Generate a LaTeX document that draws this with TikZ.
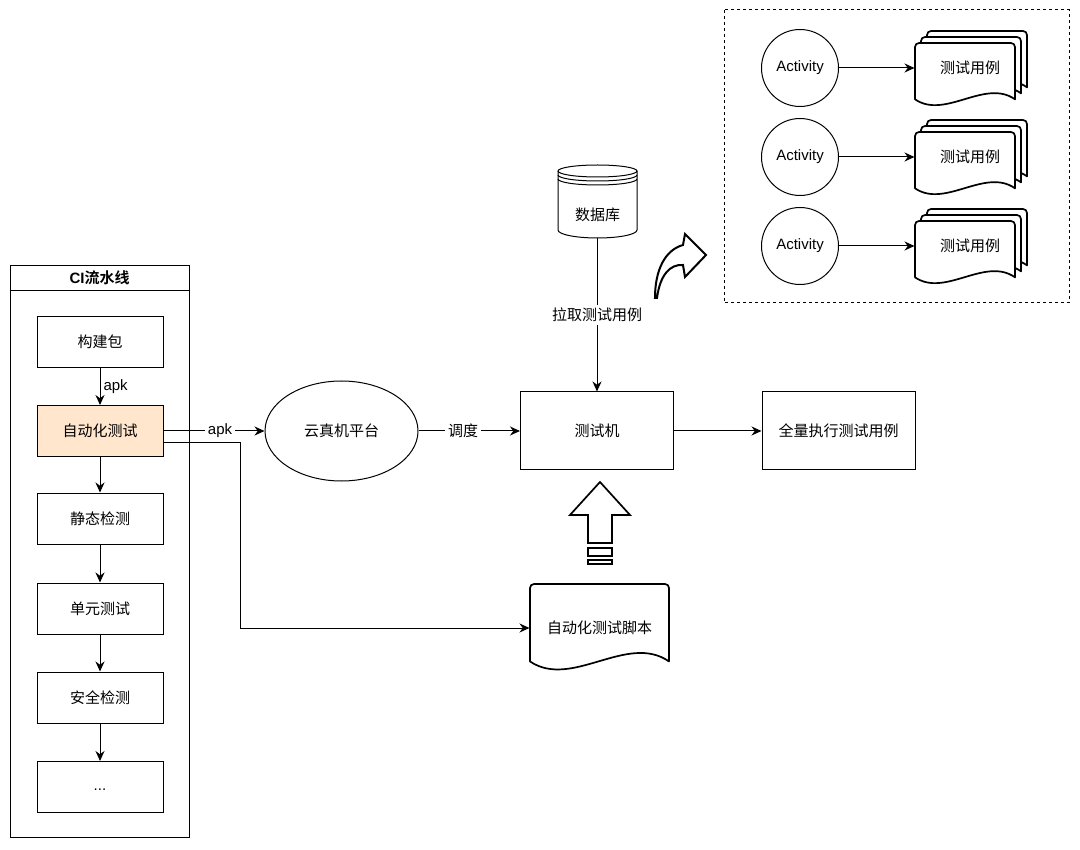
\documentclass[tikz,border=0pt]{standalone}
\usepackage{fontspec}
\setmainfont{Liberation Sans}
\newfontfamily\cn{Noto Sans CJK SC}[BoldFont={Noto Sans CJK SC Bold}]
\usetikzlibrary{arrows.meta,shapes.geometric}
\newcommand\mydoc[4]{%
  \draw[docline] (#1,{#2+0.88*#4}) -- (#1,{#2+4}) arc[start angle=180,end angle=270,radius=4]
    -- ({#1+#3-4},#2) arc[start angle=270,end angle=360,radius=4]
    -- ({#1+#3},{#2+0.88*#4}) .. controls ({#1+0.7*#3},{#2+0.55*#4}) and ({#1+0.3*#3},{#2+1.2*#4}) .. cycle;}
\newcommand\mymultidoc[4]{%
  \mydoc{#1+12}{#2-12}{#3}{#4}%
  \mydoc{#1+6}{#2-6}{#3}{#4}%
  \mydoc{#1}{#2}{#3}{#4}}
\begin{document}
\begin{tikzpicture}[x=1pt,y=-1pt,line width=1pt,
  font=\fontsize{15}{18}\selectfont,
  box/.style={draw,fill=white,minimum width=126pt,minimum height=51pt,inner sep=0pt,font=\cn\fontsize{15}{18}\selectfont},
  bigbox/.style={draw,fill=white,minimum width=153pt,minimum height=78pt,inner sep=0pt,font=\cn\fontsize{15}{18}\selectfont},
  txt/.style={inner sep=0pt,font=\cn\fontsize{15}{18}\selectfont},
  arr/.style={-{Stealth[length=10pt,width=9pt]}},
  lbl/.style={fill=white,inner sep=3pt},
  docline/.style={draw,fill=white,line width=1.7pt,line join=round},
  act/.style={draw,circle,minimum size=77pt,inner sep=0pt},
]
\useasboundingbox (0,0) rectangle (1080,850);

% CI pipeline container
\node[draw,minimum width=179pt,minimum height=572pt,anchor=north west,inner sep=0pt] (ci) at (10,265) {};
\draw (10,291) -- (189,291);
\node[font=\bfseries\fontsize{15}{18}\selectfont] (citl) at (99.5,278) {CI{\cn\bfseries 流水线}};

\node[box] (b1) at (100,342) {构建包};
\node[box,fill={rgb,255:red,255;green,230;blue,204}] (b2) at (100,431) {自动化测试};
\node[box] (b3) at (100,518.5) {静态检测};
\node[box] (b4) at (100,608.5) {单元测试};
\node[box] (b5) at (100,697.5) {安全检测};
\node[box,font=\fontsize{15}{18}\selectfont] (b6) at (100,787) {\vphantom{Ay}...};

\draw[arr] (b1) -- (b2) node[midway,right,inner sep=3pt] {apk};
\draw[arr] (b2) -- (b3);
\draw[arr] (b3) -- (b4);
\draw[arr] (b4) -- (b5);
\draw[arr] (b5) -- (b6);

% cloud platform
\node[draw,ellipse,minimum width=153pt,minimum height=100pt,inner sep=0pt,font=\cn\fontsize{15}{18}\selectfont] (cloud) at (341.5,431) {云真机平台};
\draw[arr] (b2.east) -- (cloud.west) node[lbl,pos=0.56] {apk};

% test machine
\node[bigbox] (tm) at (597,431) {测试机};
\node[bigbox] (full) at (838.5,431) {全量执行测试用例};
\draw[arr] (cloud.east) -- (tm.west) node[lbl,pos=0.44,font=\cn\fontsize{15}{18}\selectfont] {调度};
\draw[arr] (tm) -- (full);

% database
\draw[fill=white] (558,171) -- (558,230) arc[start angle=180,end angle=0,x radius=39.5,y radius=8]
  -- (637,171) arc[start angle=0,end angle=-180,x radius=39.5,y radius=6] -- cycle;
\draw (558,171) arc[start angle=180,end angle=0,x radius=39.5,y radius=6];
\draw (558,175) arc[start angle=180,end angle=0,x radius=39.5,y radius=6];
\draw (558,179) arc[start angle=180,end angle=0,x radius=39.5,y radius=6];
\node[txt] (dbt) at (597.5,215) {数据库};
\coordinate (dbb) at (597,238);
\draw[arr] (dbb) -- (tm.north) node[lbl,midway,font=\cn\fontsize{15}{18}\selectfont] {拉取测试用例};

% curved arrow
\draw[line width=2pt,fill=white,line join=miter] (655,298) .. controls (655,270) and (665,250) .. (683,245)
  -- (685,234) -- (706,255) -- (685,277) -- (683,265)
  .. controls (670,264) and (660,275) .. (657,298) -- cycle;

% block up arrow
\draw[line width=1.7pt,fill=white] (600,482) -- (630,515) -- (612,515) -- (612,543) -- (588,543) -- (588,515) -- (570,515) -- cycle;
\draw[line width=1.7pt,fill=white] (588,548) rectangle (612,556);
\draw[line width=1.7pt,fill=white] (588,560) rectangle (612,564);

% script document
\mydoc{530}{584}{139}{88}
\node[txt,minimum width=139pt,minimum height=78pt] (script) at (599.5,628) {自动化测试脚本};
\draw[arr] ([yshift=-12pt]b2.east) -- ++(77,0) |- (script.west);

% dashed group
\draw[dash pattern=on 3pt off 3pt] (724,10) rectangle (1069,303);

\node[act] (a1) at (800,68) {\raisebox{-3pt}{Activity}};
\node[act] (a2) at (800,157) {\raisebox{-3pt}{Activity}};
\node[act] (a3) at (800,246) {\raisebox{-3pt}{Activity}};

\mymultidoc{915}{43}{100}{64}
\mymultidoc{915}{132}{100}{64}
\mymultidoc{915}{221}{100}{64}
\node[txt,minimum width=100pt] (d1) at (965,68) {\hspace*{10pt}测试用例};
\node[txt,minimum width=100pt] (d2) at (965,157) {\hspace*{10pt}测试用例};
\node[txt,minimum width=100pt] (d3) at (965,246) {\hspace*{10pt}测试用例};

\draw[arr] (a1) -- (d1.west);
\draw[arr] (a2) -- (d2.west);
\draw[arr] (a3) -- (d3.west);
\end{tikzpicture}
\end{document}
